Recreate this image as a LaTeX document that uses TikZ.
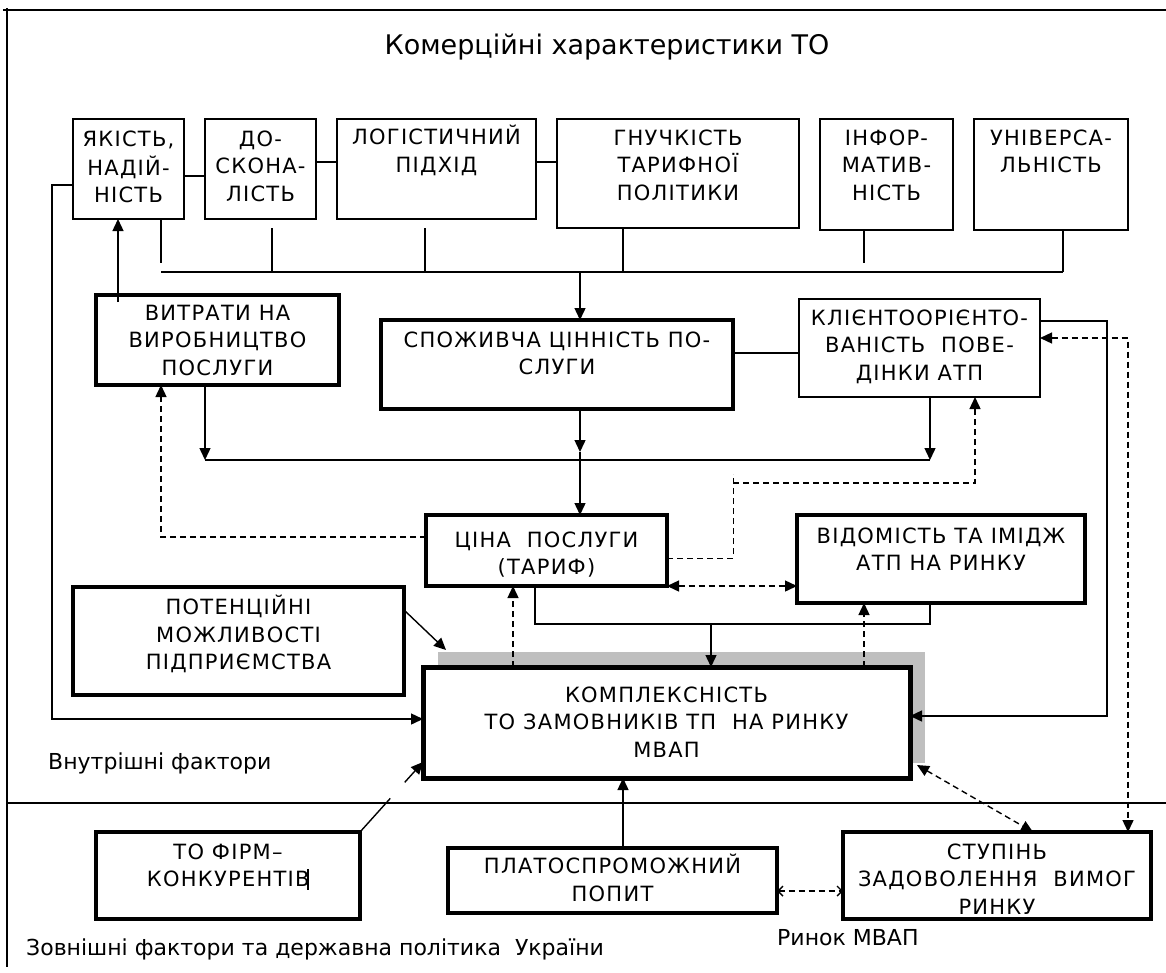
\documentclass[tikz,border=0pt]{standalone}
\usepackage{fontspec}
\setmainfont{DejaVu Sans}
\newfontfamily\bxfont{DejaVu Sans}[LetterSpace=6]
\usetikzlibrary{arrows.meta,fit,calc,backgrounds}
\begin{document}
\begin{tikzpicture}[x=1pt,y=-1pt,
 ln/.style={line width=1.4pt},
 arr/.style={ln,-{Triangle[length=12pt,width=11pt]}},
 darr/.style={ln,{Triangle[length=12pt,width=11pt]}-{Triangle[length=12pt,width=11pt]}},
 oarr/.style={ln,{Straight Barb[length=5pt,width=10pt]}-{Straight Barb[length=5pt,width=10pt]}},
 dsh/.style={dash pattern=on 6pt off 4pt},
 thinbox/.style={draw,line width=1.5pt,inner sep=0pt,outer sep=0pt},
 thickbox/.style={draw,line width=3.5pt,inner sep=0pt,outer sep=0pt},
 kombox/.style={draw,fill=white,line width=5pt,inner sep=0pt,outer sep=0pt},
 bt/.style={align=center,inner sep=0pt,font=\bxfont\fontsize{21}{27.5}\selectfont,anchor=north},
 lbl/.style={inner sep=0pt,font=\fontsize{22}{26}\selectfont,anchor=base west},
]
\useasboundingbox (0,0) rectangle (1166,972);
% frame
\draw[ln] (3,10) -- (1166,10);
\draw[ln] (7,8) -- (7,967);
\draw[ln] (7,803) -- (1166,803);

\node[inner sep=0pt,font=\fontsize{27}{32}\selectfont,anchor=base] (title) at (607,54) {Комерційні характеристики ТО};

% boxes
\node[thinbox,fit={(73,119)(184,219)}] (yak) {};
\node[thinbox,fit={(205,119)(316,219)}] (dos) {};
\node[thinbox,fit={(337,119)(536,219)}] (log) {};
\node[thinbox,fit={(557,119)(799,228)}] (gnu) {};
\node[thinbox,fit={(820,119)(953,230)}] (inf) {};
\node[thinbox,fit={(974,119)(1128,230)}] (uni) {};
\node[thickbox,fit={(96,295)(339,385)}] (vyt) {};
\node[thickbox,fit={(381,320)(733,409)}] (spo) {};
\node[thinbox,fit={(799,299)(1040,397)}] (kli) {};
\node[thickbox,fit={(426,515)(667,586)}] (cin) {};
\node[thickbox,fit={(797,515)(1085,603)}] (vid) {};
\node[thickbox,fit={(73,587)(404,695)}] (pot) {};
\node[kombox,fit={(423,667)(910,778)}] (kom) {};
\node[thickbox,fit={(96,832)(360,919)}] (tof) {};
\node[thickbox,fit={(448,848)(777,913)}] (pla) {};
\node[thickbox,fit={(843,832)(1151,919)}] (stu) {};
\begin{scope}[on background layer]
\fill[black!25] ($(kom.south west)+(15,-15)$) rectangle ($(kom.north east)+(15,-15)$);
\end{scope}

% box texts
\node[bt] (yakT) at ([yshift=-8pt]yak.north) {\strut ЯКІСТЬ,\\НАДІЙ-\\НІСТЬ};
\node[bt] (dosT) at ([yshift=-8pt]dos.north) {\strut ДО-\\СКОНА-\\ЛІСТЬ};
\node[bt] (logT) at ([yshift=-6pt]log.north) {\strut ЛОГІСТИЧНИЙ\\ПІДХІД};
\node[bt] (gnuT) at ([yshift=-7pt]gnu.north) {\strut ГНУЧКІСТЬ\\ТАРИФНОЇ\\ПОЛІТИКИ};
\node[bt] (infT) at ([yshift=-7pt]inf.north) {\strut ІНФОР-\\МАТИВ-\\НІСТЬ};
\node[bt] (uniT) at ([yshift=-7pt]uni.north) {\strut УНІВЕРСА-\\ЛЬНІСТЬ};
\node[bt] (vytT) at ([yshift=-6pt]vyt.north) {\strut ВИТРАТИ НА\\ВИРОБНИЦТВО\\ПОСЛУГИ};
\node[bt] (spoT) at ([yshift=-8pt]spo.north) {\strut СПОЖИВЧА ЦІННІСТЬ ПО-\\СЛУГИ};
\node[bt] (kliT) at ([yshift=-7pt]kli.north) {\strut КЛІЄНТООРІЄНТО-\\ВАНІСТЬ\ \ ПОВЕ-\\ДІНКИ АТП};
\node[bt] (cinT) at ([yshift=-13pt]cin.north) {\strut ЦІНА\ \ ПОСЛУГИ\\(ТАРИФ)};
\node[bt] (vidT) at ([yshift=-9pt]vid.north) {\strut ВІДОМІСТЬ ТА ІМІДЖ\\АТП НА РИНКУ};
\node[bt] (potT) at ([yshift=-8pt]pot.north) {\strut ПОТЕНЦІЙНІ\\МОЖЛИВОСТІ\\ПІДПРИЄМСТВА};
\node[bt] (komT) at ([yshift=-16pt]kom.north) {\strut КОМПЛЕКСНІСТЬ\\ТО ЗАМОВНИКІВ ТП\ \ НА РИНКУ\\МВАП};
\node[bt] (tofT) at ([yshift=-8pt]tof.north) {\strut ТО ФІРМ–\\КОНКУРЕНТІВ\kern-3pt\rule[-3pt]{2.5pt}{21pt}};
\node[bt] (plaT) at ([yshift=-6pt]pla.north) {\strut ПЛАТОСПРОМОЖНИЙ\\ПОПИТ};
\node[bt] (stuT) at ([yshift=-8pt]stu.north) {\strut СТУПІНЬ\\ЗАДОВОЛЕННЯ\ \ ВИМОГ\\РИНКУ};

% labels
\node[lbl] (inner) at (48,769) {Внутрішні фактори};
\node[lbl] (outer) at (26,955) {Зовнішні фактори та державна політика\ \ України};
\node[lbl] (mkt) at (777,945) {Ринок МВАП};

% top connectors
\draw[ln] (yak.east |- 0,176) -- (dos.west |- 0,176);
\draw[ln] (dos.east |- 0,162) -- (log.west |- 0,162);
\draw[ln] (log.east |- 0,162) -- (gnu.west |- 0,162);

% top bus
\coordinate (busW) at (161,272);
\coordinate (busE) at (1063,272);
\draw[ln] (busW) -- (busE);
\draw[ln] (yak.south -| busW) -- (161,263);
\draw[ln] ($(dos.south -| 272,0)+(0,9)$) -- (272,272);
\draw[ln] ($(log.south -| 425,0)+(0,9)$) -- (425,272);
\draw[ln] (gnu.south -| 623,0) -- (623,272);
\draw[ln] (inf.south -| 864,0) -- (864,263);
\draw[ln] (uni.south -| busE) -- (busE);
\draw[arr] (580,272) -- (spo.north -| 580,0);

% left feedback
\draw[arr] (yak.west |- 0,185) -- (52,185) |- (kom.west |- 0,719);
\draw[arr] ($(vyt.north -| 118,0)+(0,7)$) -- (yak.south -| 118,0);

% middle
\draw[ln] (spo.east |- 0,353) -- (kli.west |- 0,353);
\draw[arr] (kli.east |- 0,321) -- (1107,321) |- (kom.east |- 0,716);
\draw[dsh,darr] (kli.east |- 0,338) -- (1128,338) -- (stu.north -| 1128,0);

\coordinate (bus2W) at (205,460);
\coordinate (bus2E) at (930,460);
\draw[ln] (bus2W) -- (bus2E);
\draw[arr] (vyt.south -| bus2W) -- (bus2W);
\draw[arr] (kli.south -| bus2E) -- (bus2E);
\draw[arr] (spo.south -| 580,0) -- (580,452);
\draw[arr] (580,452) -- (cin.north -| 580,0);

\draw[dsh,arr] (cin.west |- 0,537) -| (vyt.south -| 161,0);
\draw[dsh] (cin.east |- 0,558) -| (733,474);
\draw[dsh,arr] (733,483) -| (kli.south -| 975,0);
\draw[dsh,darr] (cin.south east) -- (vid.west |- cin.south east);

\coordinate (j1) at (535,624);
\draw[ln] (cin.south -| j1) -- (j1) -- (930,624) -- (vid.south -| 930,0);
\draw[arr] (711,624) -- (kom.north -| 711,0);
\draw[dsh,arr] (kom.north -| 513,0) -- (cin.south -| 513,0);
\draw[dsh,arr] (kom.north -| 864,0) -- (vid.south -| 864,0);
\draw[arr] (pot.east |- 0,610) -- (446,650);

% bottom
\coordinate (tofK) at (kom.west |- 0,762);
\draw[ln] (tof.north east) -- ($(tof.north east)!0.48!(tofK)$);
\draw[arr] ($(tof.north east)!0.71!(tofK)$) -- (tofK);
\draw[arr] (pla.north -| 623,0) -- (kom.south -| 623,0);
\draw[dsh,oarr] (pla.east |- 0,891) -- (stu.west |- 0,891);
\draw[dsh,darr] (917,765) -- (stu.north -| 1033,0);
\end{tikzpicture}
\end{document}
